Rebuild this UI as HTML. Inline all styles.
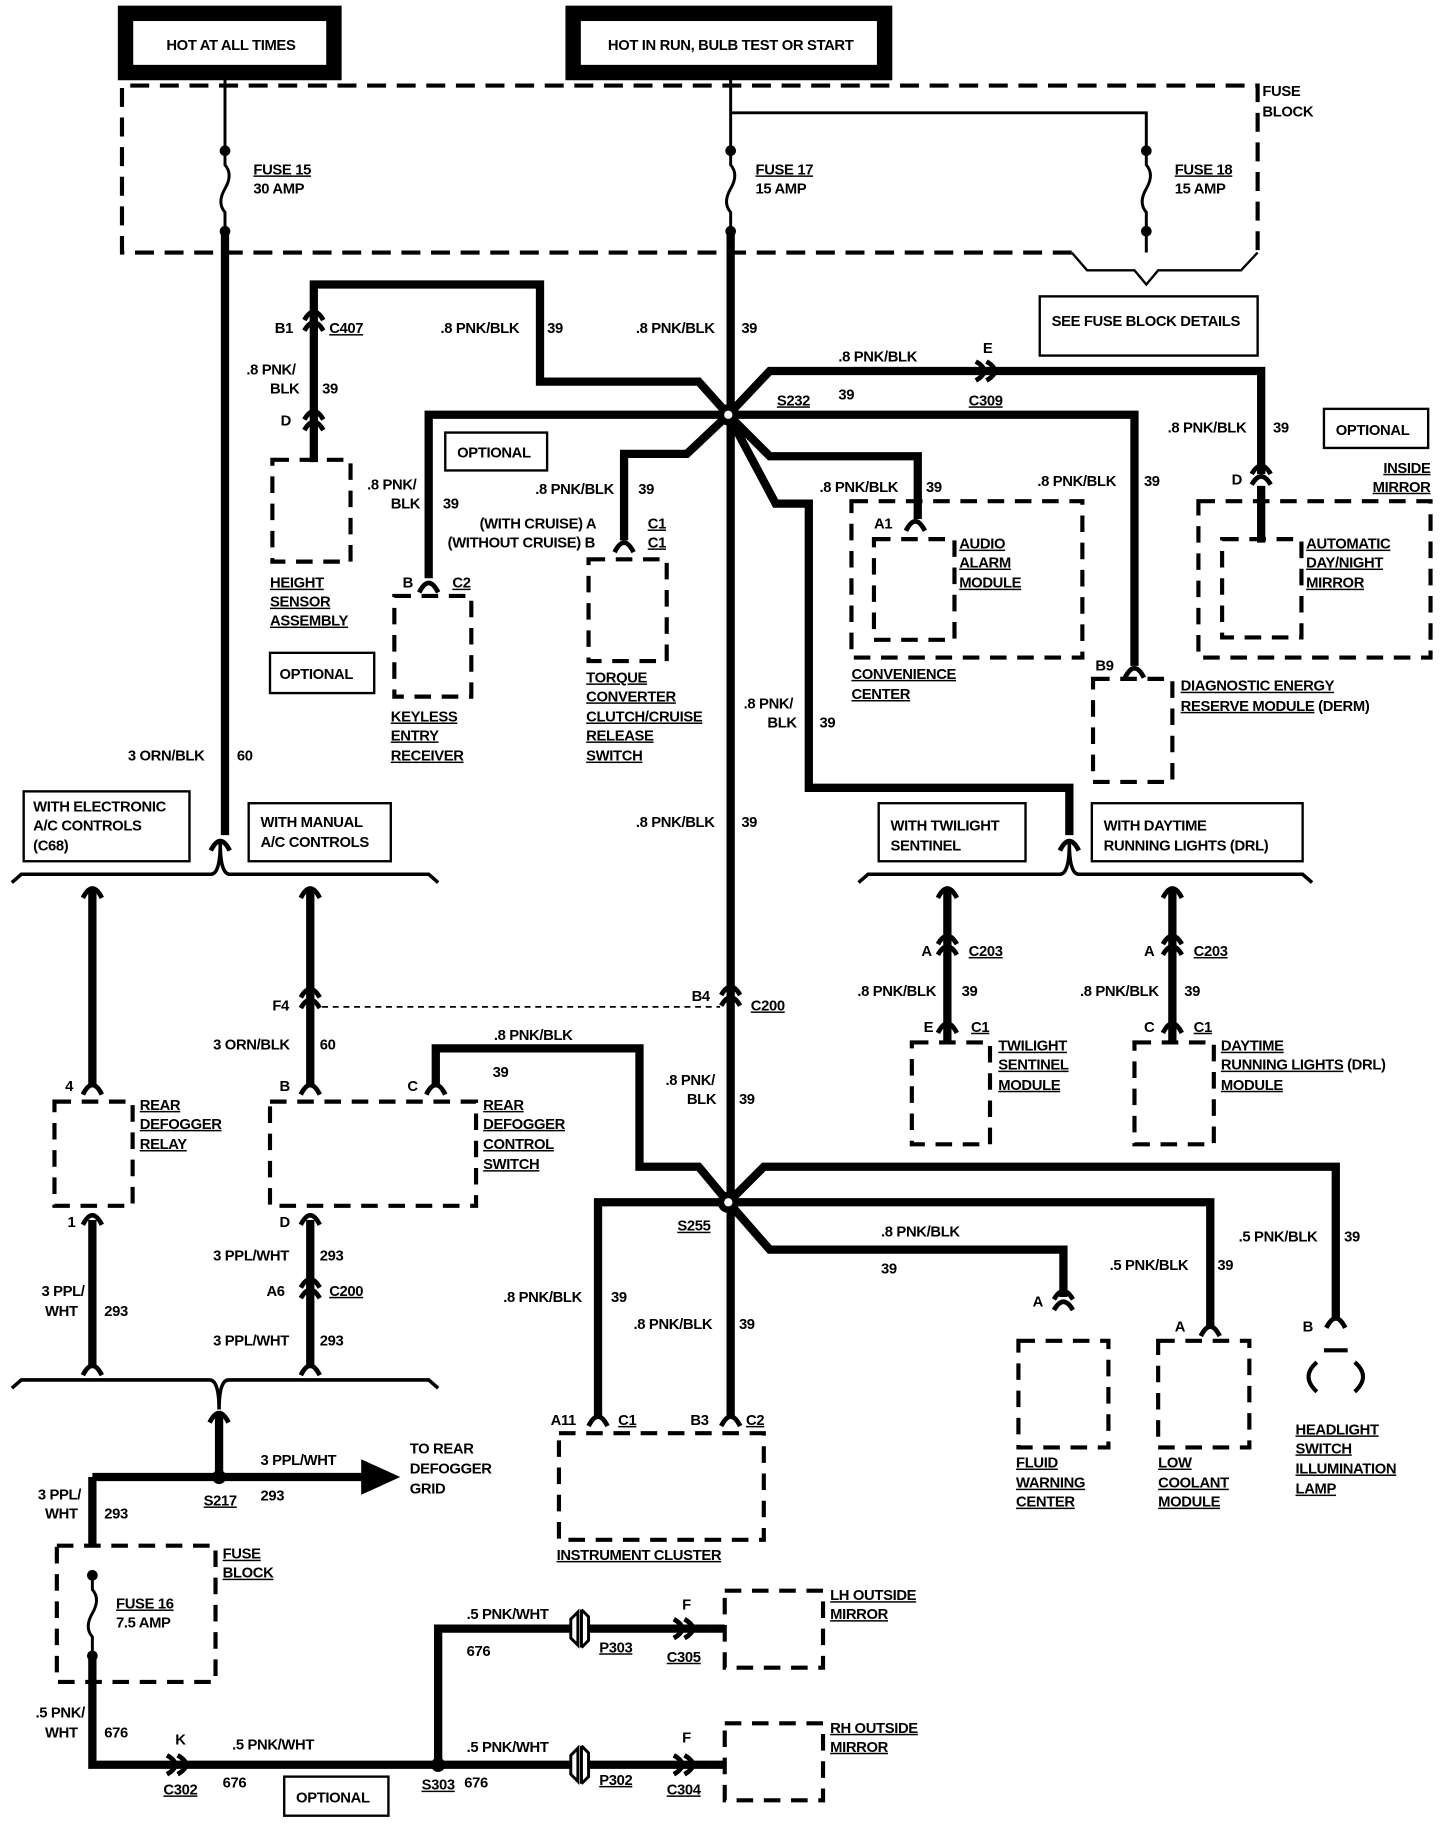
<!DOCTYPE html>
<html><head><meta charset="utf-8"><style>
html,body{margin:0;padding:0;background:#fff}
svg{display:block}
text{font-family:"Liberation Sans",sans-serif;font-weight:bold;font-size:12.5px;fill:#000;letter-spacing:-0.3px}
.u{text-decoration:underline}
</style></head><body>
<svg width="1440" height="1848" viewBox="0 0 1216 1560" xmlns="http://www.w3.org/2000/svg">
<defs>
<g id="cv"><path d="M-8,6 Q0,-10 8,6" fill="none" stroke="#000" stroke-width="4"/></g>
<g id="cv2"><path d="M-8,2 Q0,-12 8,2" fill="none" stroke="#000" stroke-width="4"/><path d="M-8,11 Q0,-3 8,11" fill="none" stroke="#000" stroke-width="4"/></g>
<g id="fuse"><circle cx="0" cy="0" r="4.5"/><path d="M0,0 L0,12 Q7,20 0,32 Q-7,44 0,52 L0,68" fill="none" stroke="#000" stroke-width="2.5"/><circle cx="0" cy="68" r="4.5"/></g>
<g id="pconn"><path d="M0,-14 L-6,-8 L-6,8 L0,14 Z M3,-16 L3,16 M3,-16 L9,-10 L9,10 L3,16" fill="#fff" stroke="#000" stroke-width="2.5"/></g>
</defs>
<g fill="none" stroke="#000">
<rect x="106" y="11" width="176" height="50" stroke-width="13"/>
<rect x="484" y="11" width="263" height="50" stroke-width="13"/>
<path d="M905,213 L103,213 L103,72 L1062,72 L1062,213" stroke-width="3.5" stroke-dasharray="16 9"/>
<path d="M905,213 L918,228 L958,228 L968,240 L978,228 L1048,228 L1062,213" stroke-width="2"/>
<rect x="878" y="250" width="184" height="50" stroke-width="2"/>
<path d="M190,66 V127 M617,66 V127 M617,95 H968 V127 M968,195 V213" stroke-width="2.5"/>
<g stroke-width="7" stroke-linejoin="miter">
<path d="M190,195 V705"/>
<path d="M617,195 V1015"/>
<path d="M615,350 L590,322 H456 V240 H265 V390"/>
<path d="M615,350 H362 V488"/>
<path d="M615,350 L580,383 H527 V456"/>
<path d="M615,350 L650,313 H1065 V400 M1065,410 V458"/>
<path d="M615,350 L650,385 H775 V438"/>
<path d="M615,350 H958 V562"/>
<path d="M615,350 L655,425 H683 V665 H903 V705"/>
<path d="M78,750 V918 M78,1030 V1155"/>
<path d="M262,750 V918 M262,1030 V1155"/>
<path d="M368,918 V885 H540 V985 H590 L615,1015"/>
<path d="M615,1015 H505 V1195 M617,1015 V1195"/>
<path d="M615,1015 L645,985 H1128 V1112"/>
<path d="M615,1015 H1022 V1120"/>
<path d="M615,1015 L650,1055 H898 V1095"/>
<path d="M800,750 V880 M990,750 V880"/>
<path d="M185,1195 V1247 M78,1247 H310 M78,1247 V1305 M78,1395 V1490 H370 V1375 H482 M498,1375 H600 M370,1490 H482 M498,1490 H600"/>
</g>
<path d="M272,850 H608" stroke-width="1.5" stroke-dasharray="5 4"/>
<path d="M10,745 L18,738 H178 Q186,738 186,712 Q186,738 194,738 H362 L370,745" stroke-width="3"/>
<path d="M725,745 L733,738 H895 Q903,738 903,712 Q903,738 911,738 H1100 L1108,745" stroke-width="3"/>
<path d="M10,1172 L18,1165 H177 Q185,1165 185,1190 Q185,1165 193,1165 H362 L370,1172" stroke-width="3"/>
<rect x="20" y="668" width="140" height="59" stroke-width="2"/>
<rect x="210" y="678" width="120" height="49" stroke-width="2"/>
<rect x="742" y="678" width="124" height="49" stroke-width="2"/>
<rect x="922" y="678" width="178" height="49" stroke-width="2"/>
<rect x="376" y="365" width="86" height="32" stroke-width="2"/>
<rect x="1118" y="345" width="88" height="33" stroke-width="2"/>
<rect x="228" y="551" width="88" height="34" stroke-width="2"/>
<rect x="240" y="1500" width="88" height="33" stroke-width="2"/>
<g stroke-width="3.5" stroke-dasharray="14 9">
<rect x="230" y="388" width="66" height="86"/>
<rect x="333" y="503" width="65" height="85"/>
<rect x="497" y="472" width="66" height="86"/>
<rect x="738" y="455" width="68" height="85"/>
<rect x="719" y="423" width="195" height="132"/>
<rect x="1032" y="455" width="67" height="83"/>
<rect x="1012" y="423" width="196" height="132"/>
<rect x="923" y="573" width="67" height="87"/>
<rect x="46" y="930" width="66" height="88"/>
<rect x="228" y="930" width="174" height="88"/>
<rect x="770" y="880" width="66" height="86"/>
<rect x="958" y="880" width="67" height="86"/>
<rect x="472" y="1210" width="173" height="90"/>
<rect x="860" y="1132" width="76" height="90"/>
<rect x="978" y="1132" width="77" height="90"/>
<rect x="48" y="1305" width="134" height="115"/>
<rect x="612" y="1343" width="83" height="65"/>
<rect x="612" y="1455" width="83" height="65"/>
</g>
<path d="M1112,1150 Q1098,1162 1112,1175 M1144,1150 Q1158,1162 1144,1175 M1118,1140 H1138" stroke-width="3.5"/>
</g>
<path d="M305,1232 L338,1247 L305,1262 Z" fill="#000"/>
<use href="#fuse" x="190" y="127"/><use href="#fuse" x="617" y="127"/><use href="#fuse" x="968" y="127"/><use href="#fuse" x="78" y="1330"/>
<circle cx="615" cy="350" r="9"/><circle cx="615" cy="350" r="3.5" fill="#fff"/>
<circle cx="615" cy="1015" r="9"/><circle cx="615" cy="1015" r="3.5" fill="#fff"/>
<circle cx="185" cy="1247" r="6"/><circle cx="370" cy="1490" r="6"/>
<use href="#cv2" x="265" y="268"/><use href="#cv2" x="265" y="352"/>
<use href="#cv" x="362" y="494"/><use href="#cv" x="527" y="460"/><use href="#cv" x="773" y="442"/>
<use href="#cv2" x="1065" y="398"/><use href="#cv" x="958" y="566"/><use href="#cv" x="903" y="712"/>
<use href="#cv" x="186" y="712"/>
<use href="#cv2" x="617" y="838"/><use href="#cv2" x="262" y="840"/>
<use href="#cv" x="78" y="752"/><use href="#cv" x="262" y="752"/><use href="#cv" x="800" y="752"/><use href="#cv" x="990" y="752"/>
<use href="#cv2" x="800" y="795"/><use href="#cv2" x="990" y="795"/>
<use href="#cv" x="800" y="866"/><use href="#cv" x="990" y="866"/>
<use href="#cv" x="78" y="918"/><use href="#cv" x="262" y="918"/><use href="#cv" x="368" y="918"/>
<use href="#cv" x="78" y="1028"/><use href="#cv" x="262" y="1028"/>
<use href="#cv2" x="262" y="1085"/>
<use href="#cv" x="78" y="1155"/><use href="#cv" x="262" y="1155"/><use href="#cv" x="185" y="1195"/>
<use href="#cv" x="505" y="1198"/><use href="#cv" x="617" y="1198"/>
<use href="#cv2" x="898" y="1095"/><use href="#cv" x="1022" y="1122"/><use href="#cv" x="1128" y="1115"/>
<use href="#cv2" transform="translate(835,313) rotate(90)"/>
<use href="#cv2" transform="translate(580,1375) rotate(90)"/>
<use href="#cv2" transform="translate(580,1490) rotate(90)"/>
<use href="#cv2" transform="translate(152,1490) rotate(90)"/>
<use href="#pconn" x="488" y="1375"/><use href="#pconn" x="488" y="1490"/>
<path d="M600,1375 H612 M600,1490 H612" stroke="#000" stroke-width="7"/>
<text x="195" y="42" text-anchor="middle">HOT AT ALL TIMES</text>
<text x="617" y="42" text-anchor="middle">HOT IN RUN, BULB TEST OR START</text>
<text x="1066" y="81">FUSE</text><text x="1066" y="98">BLOCK</text>
<text x="214" y="147" class="u">FUSE 15</text><text x="214" y="163">30 AMP</text>
<text x="638" y="147" class="u">FUSE 17</text><text x="638" y="163">15 AMP</text>
<text x="992" y="147" class="u">FUSE 18</text><text x="992" y="163">15 AMP</text>
<text x="888" y="275">SEE FUSE BLOCK DETAILS</text>
<text x="232" y="281">B1</text><text x="278" y="281" class="u">C407</text>
<text x="208" y="316">.8 PNK/</text><text x="228" y="332">BLK</text><text x="272" y="332">39</text><text x="237" y="359">D</text>
<text x="372" y="281">.8 PNK/BLK</text><text x="462" y="281">39</text>
<text x="537" y="281">.8 PNK/BLK</text><text x="626" y="281">39</text>
<text x="708" y="305">.8 PNK/BLK</text><text x="830" y="298">E</text><text x="708" y="337">39</text>
<text x="656" y="342" class="u">S232</text><text x="818" y="342" class="u">C309</text>
<text x="386" y="386">OPTIONAL</text>
<text x="310" y="413">.8 PNK/</text><text x="330" y="429">BLK</text><text x="374" y="429">39</text>
<text x="452" y="417">.8 PNK/BLK</text><text x="539" y="417">39</text>
<text x="405" y="446">(WITH CRUISE) A</text><text x="547" y="446" class="u">C1</text>
<text x="378" y="462">(WITHOUT CRUISE) B</text><text x="547" y="462" class="u">C1</text>
<text x="340" y="496">B</text><text x="382" y="496" class="u">C2</text>
<text x="692" y="415">.8 PNK/BLK</text><text x="782" y="415">39</text>
<text x="876" y="410">.8 PNK/BLK</text><text x="966" y="410">39</text>
<text x="986" y="365">.8 PNK/BLK</text><text x="1075" y="365">39</text>
<text x="1128" y="367">OPTIONAL</text>
<text x="1208" y="399" text-anchor="end" class="u">INSIDE</text><text x="1208" y="415" text-anchor="end" class="u">MIRROR</text>
<text x="738" y="446">A1</text>
<text x="810" y="463" class="u">AUDIO</text><text x="810" y="479" class="u">ALARM</text><text x="810" y="496" class="u">MODULE</text>
<text x="1040" y="409">D</text>
<text x="1103" y="463" class="u">AUTOMATIC</text><text x="1103" y="479" class="u">DAY/NIGHT</text><text x="1103" y="496" class="u">MIRROR</text>
<text x="719" y="573" class="u">CONVENIENCE</text><text x="719" y="590" class="u">CENTER</text>
<text x="925" y="566">B9</text>
<text x="997" y="583" class="u">DIAGNOSTIC ENERGY</text><text x="997" y="600"><tspan class="u">RESERVE MODULE</tspan> (DERM)</text>
<text x="228" y="496" class="u">HEIGHT</text><text x="228" y="512" class="u">SENSOR</text><text x="228" y="528" class="u">ASSEMBLY</text>
<text x="236" y="573">OPTIONAL</text>
<text x="330" y="609" class="u">KEYLESS</text><text x="330" y="625" class="u">ENTRY</text><text x="330" y="642" class="u">RECEIVER</text>
<text x="495" y="576" class="u">TORQUE</text><text x="495" y="592" class="u">CONVERTER</text><text x="495" y="609" class="u">CLUTCH/CRUISE</text><text x="495" y="625" class="u">RELEASE</text><text x="495" y="642" class="u">SWITCH</text>
<text x="628" y="598">.8 PNK/</text><text x="648" y="614">BLK</text><text x="692" y="614">39</text>
<text x="108" y="642">3 ORN/BLK</text><text x="200" y="642">60</text>
<text x="537" y="698">.8 PNK/BLK</text><text x="626" y="698">39</text>
<text x="28" y="685">WITH ELECTRONIC</text><text x="28" y="701">A/C CONTROLS</text><text x="28" y="718">(C68)</text>
<text x="220" y="698">WITH MANUAL</text><text x="220" y="715">A/C CONTROLS</text>
<text x="752" y="701">WITH TWILIGHT</text><text x="752" y="718">SENTINEL</text>
<text x="932" y="701">WITH DAYTIME</text><text x="932" y="718">RUNNING LIGHTS (DRL)</text>
<text x="778" y="807">A</text><text x="818" y="807" class="u">C203</text>
<text x="724" y="841">.8 PNK/BLK</text><text x="812" y="841">39</text>
<text x="780" y="871">E</text><text x="820" y="871" class="u">C1</text>
<text x="843" y="887" class="u">TWILIGHT</text><text x="843" y="903" class="u">SENTINEL</text><text x="843" y="920" class="u">MODULE</text>
<text x="966" y="807">A</text><text x="1008" y="807" class="u">C203</text>
<text x="912" y="841">.8 PNK/BLK</text><text x="1000" y="841">39</text>
<text x="966" y="871">C</text><text x="1008" y="871" class="u">C1</text>
<text x="1031" y="887" class="u">DAYTIME</text><text x="1031" y="903"><tspan class="u">RUNNING LIGHTS</tspan> (DRL)</text><text x="1031" y="920" class="u">MODULE</text>
<text x="584" y="845">B4</text><text x="634" y="853" class="u">C200</text>
<text x="230" y="853">F4</text><text x="180" y="886">3 ORN/BLK</text><text x="270" y="886">60</text>
<text x="417" y="878">.8 PNK/BLK</text><text x="416" y="909">39</text>
<text x="562" y="916">.8 PNK/</text><text x="580" y="932">BLK</text><text x="624" y="932">39</text>
<text x="55" y="921">4</text><text x="236" y="921">B</text><text x="344" y="921">C</text>
<text x="118" y="937" class="u">REAR</text><text x="118" y="953" class="u">DEFOGGER</text><text x="118" y="970" class="u">RELAY</text>
<text x="408" y="937" class="u">REAR</text><text x="408" y="953" class="u">DEFOGGER</text><text x="408" y="970" class="u">CONTROL</text><text x="408" y="987" class="u">SWITCH</text>
<text x="57" y="1036">1</text><text x="236" y="1036">D</text>
<text x="180" y="1064">3 PPL/WHT</text><text x="270" y="1064">293</text>
<text x="225" y="1094">A6</text><text x="278" y="1094" class="u">C200</text>
<text x="180" y="1136">3 PPL/WHT</text><text x="270" y="1136">293</text>
<text x="35" y="1094">3 PPL/</text><text x="38" y="1111">WHT</text><text x="88" y="1111">293</text>
<text x="572" y="1039" class="u">S255</text>
<text x="744" y="1044">.8 PNK/BLK</text><text x="744" y="1075">39</text>
<text x="937" y="1072">.5 PNK/BLK</text><text x="1028" y="1072">39</text>
<text x="1046" y="1048">.5 PNK/BLK</text><text x="1135" y="1048">39</text>
<text x="425" y="1099">.8 PNK/BLK</text><text x="516" y="1099">39</text>
<text x="535" y="1122">.8 PNK/BLK</text><text x="624" y="1122">39</text>
<text x="872" y="1103">A</text><text x="992" y="1124">A</text><text x="1100" y="1124">B</text>
<text x="465" y="1203">A11</text><text x="522" y="1203" class="u">C1</text><text x="583" y="1203">B3</text><text x="630" y="1203" class="u">C2</text>
<text x="470" y="1317" class="u">INSTRUMENT CLUSTER</text>
<text x="858" y="1239" class="u">FLUID</text><text x="858" y="1256" class="u">WARNING</text><text x="858" y="1272" class="u">CENTER</text>
<text x="978" y="1239" class="u">LOW</text><text x="978" y="1256" class="u">COOLANT</text><text x="978" y="1272" class="u">MODULE</text>
<text x="1094" y="1211" class="u">HEADLIGHT</text><text x="1094" y="1227" class="u">SWITCH</text><text x="1094" y="1244" class="u">ILLUMINATION</text><text x="1094" y="1261" class="u">LAMP</text>
<text x="220" y="1237">3 PPL/WHT</text>
<text x="346" y="1227">TO REAR</text><text x="346" y="1244">DEFOGGER</text><text x="346" y="1261">GRID</text>
<text x="32" y="1266">3 PPL/</text><text x="38" y="1282">WHT</text><text x="88" y="1282">293</text>
<text x="172" y="1271" class="u">S217</text><text x="220" y="1267">293</text>
<text x="188" y="1316" class="u">FUSE</text><text x="188" y="1332" class="u">BLOCK</text>
<text x="98" y="1358" class="u">FUSE 16</text><text x="98" y="1374">7.5 AMP</text>
<text x="394" y="1367">.5 PNK/WHT</text><text x="394" y="1398">676</text>
<text x="506" y="1395" class="u">P303</text><text x="576" y="1359">F</text><text x="563" y="1403" class="u">C305</text>
<text x="701" y="1351" class="u">LH OUTSIDE</text><text x="701" y="1367" class="u">MIRROR</text>
<text x="30" y="1450">.5 PNK/</text><text x="38" y="1467">WHT</text><text x="88" y="1467">676</text>
<text x="148" y="1473">K</text><text x="196" y="1477">.5 PNK/WHT</text>
<text x="138" y="1515" class="u">C302</text><text x="188" y="1509">676</text>
<text x="356" y="1511" class="u">S303</text><text x="392" y="1509">676</text>
<text x="394" y="1479">.5 PNK/WHT</text>
<text x="506" y="1507" class="u">P302</text><text x="576" y="1471">F</text><text x="563" y="1515" class="u">C304</text>
<text x="701" y="1463" class="u">RH OUTSIDE</text><text x="701" y="1479" class="u">MIRROR</text>
<text x="250" y="1522">OPTIONAL</text>
</svg>
</body></html>
